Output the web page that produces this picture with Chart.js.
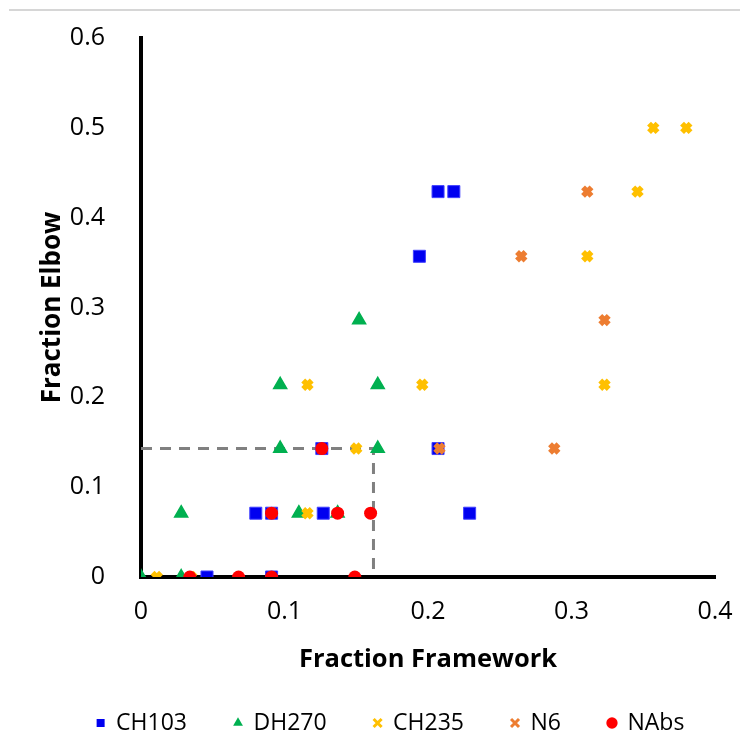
<!DOCTYPE html>
<html><head><meta charset="utf-8">
<script src="https://cdn.jsdelivr.net/npm/chart.js@4"></script>
<style>html,body{margin:0;padding:0;background:#fff;}</style>
</head><body>
<canvas id="c" width="740" height="736"></canvas>
<script>
// ---- data ----
const seriesNames = ['CH103', 'DH270', 'CH235', 'N6', 'NAbs'];
const ch103X = [0.207, 0.218, 0.194, 0.207, 0.229, 0.080, 0.091, 0.127, 0.126, 0.046, 0.091];
const ch103Y = [0.429, 0.429, 0.357, 0.143, 0.071, 0.071, 0.071, 0.071, 0.143, 0, 0];
const dh270X = [0, 0.028, 0.028, 0.097, 0.165, 0.110, 0.137, 0.097, 0.152, 0.165];
const dh270Y = [0, 0.071, 0, 0.143, 0.143, 0.071, 0.071, 0.214, 0.286, 0.214];
const ch235X = [0.011, 0.035, 0.091, 0.116, 0.150, 0.116, 0.196, 0.323, 0.311, 0.346, 0.357, 0.380];
const ch235Y = [0, 0, 0.071, 0.071, 0.143, 0.214, 0.214, 0.214, 0.357, 0.429, 0.5, 0.5];
const n6X = [0.311, 0.265, 0.323, 0.208, 0.288];
const n6Y = [0.429, 0.357, 0.286, 0.143, 0.143];
const nabsX = [0.034, 0.068, 0.091, 0.149, 0.091, 0.137, 0.160, 0.126];
const nabsY = [0, 0, 0, 0, 0.071, 0.071, 0.071, 0.143];
const refX = [0, 0.162, 0.162];
const refY = [0.143, 0.143, 0];
const xTickValues = [0, 0.1, 0.2, 0.3, 0.4];
const yTickValues = [0, 0.1, 0.2, 0.3, 0.4, 0.5, 0.6];
const xTitle = 'Fraction Framework';
const yTitle = 'Fraction Elbow';

const pts = (xs, ys) => xs.map((x, i) => ({x: x, y: ys[i]}));
const FONT = "'Open Sans', sans-serif";

const topLine = {
  id: 'topLine',
  beforeDraw(chart) {
    const ctx = chart.ctx;
    ctx.save();
    ctx.strokeStyle = '#c8c8c8';
    ctx.lineWidth = 1.5;
    ctx.beginPath();
    ctx.moveTo(9, 10);
    ctx.lineTo(740, 10);
    ctx.stroke();
    ctx.restore();
  }
};

// nudge the legend box to the right (reference legend is centred a bit right of the canvas)
const legendShift = {
  id: 'legendShift',
  afterLayout(chart) {
    if (chart.legend) { chart.legend.left += 33; chart.legend.right += 33; }
  }
};

new Chart(document.getElementById('c'), {
  type: 'scatter',
  data: {
    datasets: [
      {label: seriesNames[0], data: pts(ch103X, ch103Y), pointStyle: 'rect', pointRadius: 8.5,
       backgroundColor: '#0000f0', borderColor: '#4040ff', borderWidth: 1, order: 5},
      {label: seriesNames[1], data: pts(dh270X, dh270Y), pointStyle: 'triangle', pointRadius: 7.5,
       backgroundColor: '#00b050', borderColor: '#00b050', borderWidth: 1.5, order: 4},
      {label: seriesNames[2], data: pts(ch235X, ch235Y), pointStyle: 'crossRot', pointRadius: 6,
       backgroundColor: '#ffc000', borderColor: '#ffc000', borderWidth: 5.5, order: 3},
      {label: seriesNames[3], data: pts(n6X, n6Y), pointStyle: 'crossRot', pointRadius: 6,
       backgroundColor: '#ed7d31', borderColor: '#ed7d31', borderWidth: 5.5, order: 2},
      {label: seriesNames[4], data: pts(nabsX, nabsY), pointStyle: 'circle', pointRadius: 6.5,
       backgroundColor: '#ff0000', borderColor: '#ff0000', borderWidth: 0, order: 1},
      {label: 'ref', data: pts(refX, refY), showLine: true, pointRadius: 0, fill: false,
       borderColor: '#808080', borderWidth: 3, borderDash: [11, 8], order: 10}
    ]
  },
  options: {
    responsive: false,
    animation: false,
    events: [],
    layout: {padding: {top: 38, right: 25, bottom: -8.5, left: 0}},
    plugins: {
      tooltip: {enabled: false},
      legend: {
        position: 'bottom',
        labels: {
          usePointStyle: true,
          boxWidth: 8, boxHeight: 8,
          padding: 47,
          color: '#000',
          font: {family: FONT, size: 23},
          filter: (item) => item.text !== 'ref',
          sort: (a, b) => a.datasetIndex - b.datasetIndex,
          generateLabels(chart) {
            const items = Chart.defaults.plugins.legend.labels.generateLabels(chart);
            items.forEach(it => {
              if (it.pointStyle === 'crossRot') it.lineWidth = 3;
              else it.lineWidth = 0;
            });
            return items;
          }
        }
      }
    },
    scales: {
      x: {
        type: 'linear', min: 0, max: 0.4,
        afterFit(s) { s.height = 87.5; s.paddingLeft = 0; s.paddingRight = 0; },
        afterBuildTicks(s) { s.ticks = xTickValues.map(v => ({value: v})); },
        ticks: {color: '#000', padding: 12, font: {family: FONT, size: 25}},
        grid: {display: false},
        border: {display: true, color: '#000', width: 4},
        title: {display: true, text: xTitle, color: '#000',
                font: {family: FONT, size: 25.5, weight: 'bold'},
                padding: {top: 0, bottom: -10.8}}
      },
      y: {
        type: 'linear', min: 0, max: 0.6,
        afterFit(s) { s.width = 141; s.paddingTop = 0; s.paddingBottom = 0; },
        afterBuildTicks(s) { s.ticks = yTickValues.map(v => ({value: v})); },
        ticks: {color: '#000', padding: 28, font: {family: FONT, size: 25}},
        grid: {display: false},
        border: {display: true, color: '#000', width: 4},
        title: {display: true, text: yTitle, color: '#000',
                font: {family: FONT, size: 26, weight: 'bold'},
                padding: {top: 37, bottom: 0}}
      }
    }
  },
  plugins: [topLine, legendShift]
});
</script>
</body></html>
